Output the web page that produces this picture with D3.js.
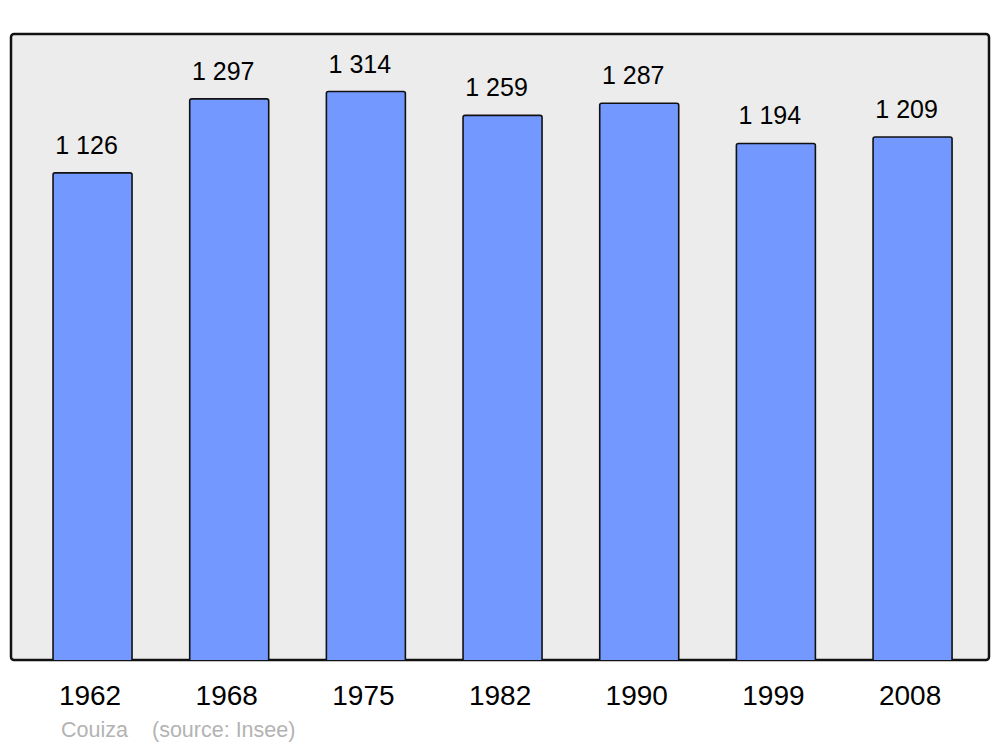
<!DOCTYPE html>
<html><head><meta charset="utf-8">
<script src="https://cdn.jsdelivr.net/npm/d3@7"></script>
<style>body{margin:0;background:#fff}svg{display:block}</style>
</head><body>
<script>
const years = ["1962","1968","1975","1982","1990","1999","2008"];
const population = [1126,1297,1314,1259,1287,1194,1209];
const valueLabels = ["1 126","1 297","1 314","1 259","1 287","1 194","1 209"];
const commune = "Couiza";
const source = "(source: Insee)";

const W=1000,H=747;
const svg=d3.select("body").append("svg").attr("width",W).attr("height",H);
const font="'Liberation Sans', Arial, sans-serif";

const panel={x:11,y:34,w:978,h:626};
svg.append("rect").attr("x",panel.x).attr("y",panel.y).attr("width",panel.w).attr("height",panel.h)
  .attr("rx",3).attr("fill","#ececec").attr("stroke","#111").attr("stroke-width",2.5);

const x=d3.scaleBand().domain(years).range([24.2,980.9]).paddingInner(0.422).paddingOuter(0.211);
const y=d3.scaleLinear().domain([0,1447]).range([660,34]);

const g=svg.append("g");
years.forEach((yr,i)=>{
  const x0=x(yr), bw=x.bandwidth(), y0=y(population[i]), yb=y(0), r=2;
  const p=`M${x0},${yb} L${x0},${y0+r} Q${x0},${y0} ${x0+r},${y0} L${x0+bw-r},${y0} Q${x0+bw},${y0} ${x0+bw},${y0+r} L${x0+bw},${yb}`;
  g.append("path").attr("d",p).attr("fill","#7398ff").attr("stroke","#111").attr("stroke-width",1.6);
  g.append("text").attr("x",x0+bw/2-6).attr("y",y0-19).attr("text-anchor","middle")
    .attr("font-family",font).attr("font-size",25).attr("fill","#000").text(valueLabels[i]);
});

const xAxis=d3.axisBottom(x).tickSize(0).tickPadding(0);
const ax=svg.append("g").attr("transform","translate(0,685)").call(xAxis);
ax.select(".domain").remove();
ax.selectAll("text").attr("font-family",font).attr("font-size",28).attr("fill","#000").attr("dy","0.71em").attr("dx",-2.5);

svg.append("text").attr("x",61).attr("y",737).attr("font-family",font).attr("font-size",21.5).attr("fill","#b3b3b3").text(commune);
svg.append("text").attr("x",152).attr("y",737).attr("font-family",font).attr("font-size",21.5).attr("fill","#b3b3b3").text(source);
</script>
</body></html>
